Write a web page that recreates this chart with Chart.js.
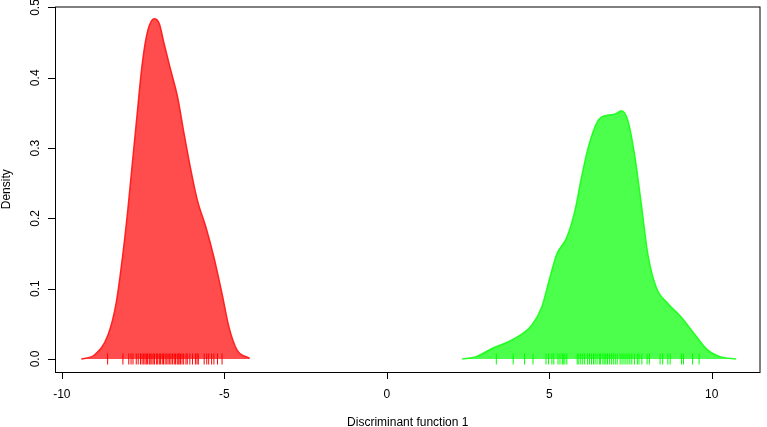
<!DOCTYPE html>
<html>
<head>
<meta charset="utf-8">
<script src="https://cdn.jsdelivr.net/npm/chart.js@4/dist/chart.umd.min.js"></script>
<style>
  html, body { margin: 0; padding: 0; background: #fff; }
  canvas { display: block; }
</style>
</head>
<body>
<canvas id="chart" width="767" height="427"></canvas>
<script>
// density curve of group 1 (red)
const redX = [-9.40, -8.99, -8.58, -8.33, -8.13, -7.97, -7.82, -7.67, -7.56, -7.44, -7.31, -7.16, -7.00, -6.85, -6.65, -6.44, -6.24, -6.03, -5.83, -5.57, -5.32, -5.07, -4.86, -4.61, -4.22];
const redY = [0.000, 0.006, 0.034, 0.079, 0.146, 0.212, 0.283, 0.354, 0.406, 0.448, 0.474, 0.484, 0.477, 0.448, 0.411, 0.373, 0.321, 0.269, 0.226, 0.188, 0.145, 0.093, 0.046, 0.013, 0.001];

// density curve of group 2 (green)
const greenX = [2.32, 2.73, 3.24, 3.85, 4.46, 4.77, 5.02, 5.23, 5.54, 5.79, 5.99, 6.20, 6.50, 6.81, 7.01, 7.22, 7.42, 7.62, 7.83, 8.03, 8.29, 8.65, 9.05, 9.46, 9.87, 10.28, 10.75];
const greenY = [0.000, 0.003, 0.015, 0.027, 0.048, 0.074, 0.116, 0.149, 0.173, 0.211, 0.258, 0.301, 0.339, 0.347, 0.348, 0.353, 0.339, 0.292, 0.221, 0.150, 0.102, 0.079, 0.060, 0.036, 0.013, 0.003, 0.000];

// rug of observed scores
const redRug = [-8.59, -8.12, -7.94, -7.87, -7.81, -7.71, -7.65, -7.58, -7.53, -7.48, -7.44, -7.40, -7.36, -7.31, -7.28, -7.23, -7.19, -7.15, -7.09, -7.05, -7.00, -6.96, -6.91, -6.87, -6.82, -6.77, -6.73, -6.68, -6.64, -6.59, -6.54, -6.50, -6.45, -6.42, -6.39, -6.35, -6.30, -6.25, -6.18, -6.14, -6.06, -5.98, -5.89, -5.84, -5.80, -5.62, -5.54, -5.48, -5.39, -5.32, -5.21, -5.07];
const greenRug = [3.37, 3.89, 4.24, 4.50, 4.90, 4.98, 5.08, 5.14, 5.27, 5.33, 5.40, 5.43, 5.48, 5.54, 5.86, 5.91, 5.97, 6.03, 6.09, 6.18, 6.24, 6.30, 6.36, 6.41, 6.47, 6.54, 6.58, 6.65, 6.69, 6.74, 6.79, 6.85, 6.91, 6.97, 7.03, 7.09, 7.18, 7.24, 7.30, 7.36, 7.42, 7.48, 7.54, 7.62, 7.71, 7.76, 7.85, 8.01, 8.08, 8.41, 8.49, 8.65, 8.72, 9.07, 9.13, 9.41, 9.61];

const xTicks = [-10, -5, 0, 5, 10];
const yTicks = [0.0, 0.1, 0.2, 0.3, 0.4, 0.5];
const xTitle = 'Discriminant function 1';
const yTitle = 'Density';

const pts = (xs, ys) => xs.map((x, i) => ({ x: x, y: ys[i] }));
const rug = xs => xs.map(x => ({ x: x, y: 0 }));

const FONT = '12px "Liberation Sans", Arial, sans-serif';

// R-style box, axes and labels
const rAxes = {
  id: 'rAxes',
  afterDraw(chart) {
    const ctx = chart.ctx;
    const a = chart.chartArea;
    const xs = chart.scales.x, ys = chart.scales.y;
    ctx.save();
    ctx.strokeStyle = '#000';
    ctx.lineWidth = 1;
    ctx.strokeRect(a.left + 0.5, a.top + 0.5, a.right - a.left - 1, a.bottom - a.top);

    ctx.fillStyle = '#000';
    ctx.font = FONT;
    ctx.beginPath();
    xTicks.forEach(v => {
      const px = Math.round(xs.getPixelForValue(v)) + 0.5;
      ctx.moveTo(px, a.bottom);
      ctx.lineTo(px, a.bottom + 7);
    });
    yTicks.forEach(v => {
      const py = Math.round(ys.getPixelForValue(v)) + 0.5;
      ctx.moveTo(a.left, py);
      ctx.lineTo(a.left - 7, py);
    });
    ctx.stroke();

    ctx.textAlign = 'center';
    ctx.textBaseline = 'middle';
    xTicks.forEach(v => {
      ctx.fillText(String(v), xs.getPixelForValue(v), a.bottom + 23);
    });
    yTicks.forEach(v => {
      ctx.save();
      ctx.translate(a.left - 19, ys.getPixelForValue(v));
      ctx.rotate(-Math.PI / 2);
      ctx.fillText(v.toFixed(1), 0, 0);
      ctx.restore();
    });
    ctx.fillText(xTitle, (a.left + a.right) / 2, a.bottom + 51);
    ctx.save();
    ctx.translate(a.left - 48, (a.top + a.bottom) / 2);
    ctx.rotate(-Math.PI / 2);
    ctx.fillText(yTitle, 0, 0);
    ctx.restore();
    ctx.restore();
  }
};

new Chart(document.getElementById('chart'), {
  type: 'scatter',
  data: {
    datasets: [
      {
        label: 'group 1',
        data: pts(redX, redY),
        showLine: true,
        fill: { value: 0 },
        backgroundColor: 'rgba(255, 0, 0, 0.7)',
        borderColor: 'rgba(255, 20, 20, 0.9)',
        borderWidth: 1.5,
        pointRadius: 0,
        cubicInterpolationMode: 'monotone'
      },
      {
        label: 'group 2',
        data: pts(greenX, greenY),
        showLine: true,
        fill: { value: 0 },
        backgroundColor: 'rgba(0, 255, 0, 0.7)',
        borderColor: 'rgba(20, 255, 20, 0.9)',
        borderWidth: 1.5,
        pointRadius: 0,
        cubicInterpolationMode: 'monotone'
      },
      {
        label: 'rug 1',
        data: rug(redRug),
        showLine: false,
        pointStyle: 'line',
        rotation: 90,
        pointRadius: 5.5,
        borderColor: '#ff0000',
        borderWidth: 1
      },
      {
        label: 'rug 2',
        data: rug(greenRug),
        showLine: false,
        pointStyle: 'line',
        rotation: 90,
        pointRadius: 5.5,
        borderColor: '#00ff00',
        borderWidth: 1
      }
    ]
  },
  options: {
    responsive: false,
    animation: false,
    layout: { padding: { left: 55, right: 2, top: 5, bottom: 55 } },
    scales: {
      x: { type: 'linear', min: -10.21, max: 11.5, display: false },
      y: { type: 'linear', min: -0.0185, max: 0.5014, display: false }
    },
    plugins: {
      legend: { display: false },
      tooltip: { enabled: false }
    }
  },
  plugins: [rAxes]
});
</script>
</body>
</html>
